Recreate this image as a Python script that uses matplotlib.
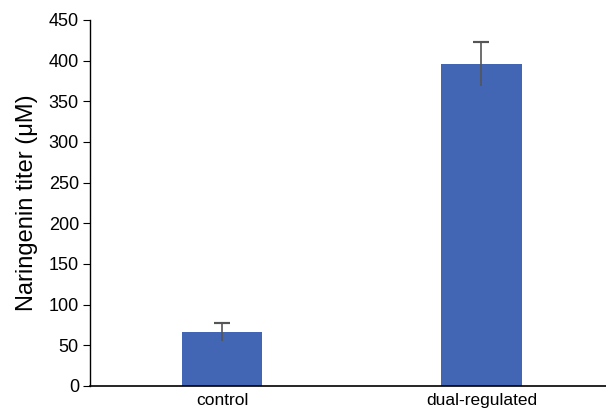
import matplotlib
matplotlib.use("Agg")
import matplotlib.pyplot as plt

categories = ["control", "dual-regulated"]
values = [66, 396]
errors = [11, 27]
yticks = [0, 50, 100, 150, 200, 250, 300, 350, 400, 450]

plt.rcParams['font.family'] = ['Liberation Sans', 'DejaVu Sans']

fig = plt.figure(figsize=(6.06, 4.13), dpi=100)
ax = fig.add_axes([90/606, 1-386/413, 1-90/606, (386-20)/413])

x = list(range(len(categories)))
ax.bar(x, values, width=0.31, color='#4266B4', zorder=2)
ax.errorbar(x, values, yerr=[[e for e in errors], errors], fmt='none',
            ecolor='#555555', elinewidth=1.2, capsize=0, zorder=3)
# caps on top only
ax.errorbar(x, [v + e for v, e in zip(values, errors)], yerr=0, fmt='none',
            ecolor='#555555', capsize=6, capthick=1.5, elinewidth=0, zorder=3)

ax.set_xlim(-0.509, 1.48)
ax.set_ylim(0, 450)
ax.set_yticks(yticks)
ax.set_xticks(x)
ax.set_xticklabels(categories, fontsize=12.5)
ax.tick_params(axis='x', length=0, pad=5)
ax.tick_params(axis='y', length=5, direction='out', labelsize=13, pad=3)
for s in ['top', 'right']:
    ax.spines[s].set_visible(False)
ax.spines['left'].set_linewidth(1.0)
ax.spines['bottom'].set_linewidth(1.2)
ax.set_ylabel("Naringenin titer (μM)", fontsize=17, labelpad=8)

fig.savefig("out.png", dpi=100)
